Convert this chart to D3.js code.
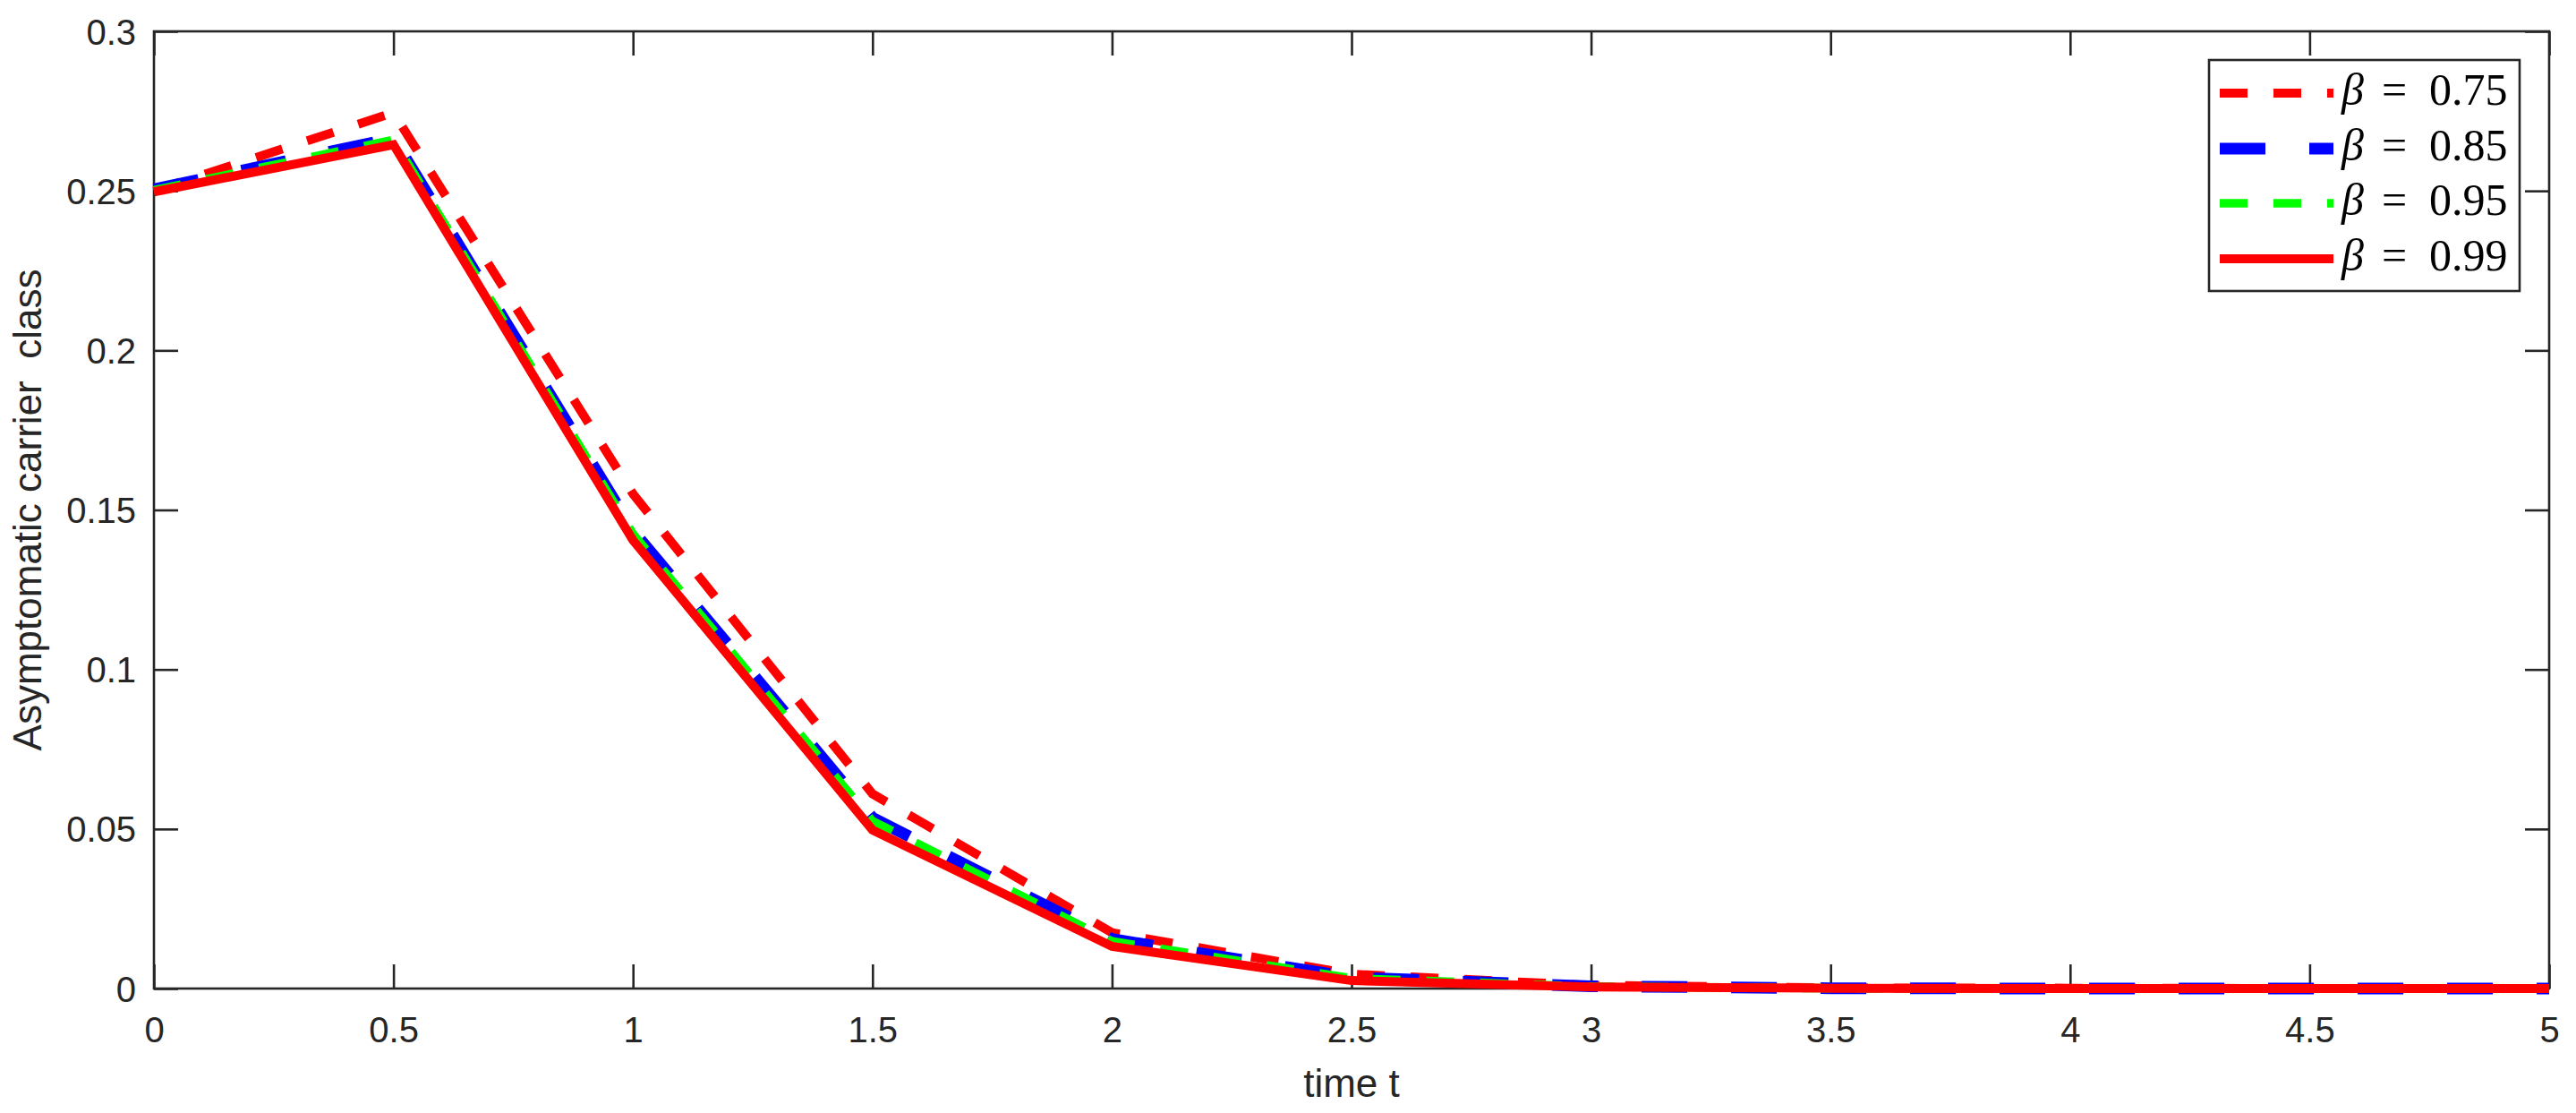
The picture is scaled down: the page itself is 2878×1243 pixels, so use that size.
<!DOCTYPE html>
<html>
<head>
<meta charset="utf-8">
<script src="https://cdn.jsdelivr.net/npm/d3@7"></script>
<style>
  body { margin: 0; background: #fff; }
  .tick text { font-family: "Liberation Sans", Arial, sans-serif; font-size: 40px; fill: #262626; }
  .tick line { stroke: #262626; stroke-width: 2.6; }
</style>
</head>
<body>
<script>
// time points and the four beta series
const times = [0, 0.5, 1, 1.5, 2, 2.5, 3, 3.5, 4, 4.5, 5];
const beta075 = [0.250, 0.2745, 0.155, 0.061, 0.0175, 0.0045, 0.0010, 0.0002, 0.0001, 0, 0];
const beta085 = [0.2505, 0.2665, 0.1435, 0.0535, 0.0155, 0.0035, 0.0007, 0.0001, 0, 0, 0];
const beta095 = [0.2502, 0.266, 0.1425, 0.0525, 0.0148, 0.0032, 0.0006, 0.0001, 0, 0, 0];
const beta099 = [0.2497, 0.2645, 0.1405, 0.0497, 0.0132, 0.0025, 0.0005, 0.0001, 0, 0, 0];

// tick labels
const xTicks = [0, 0.5, 1, 1.5, 2, 2.5, 3, 3.5, 4, 4.5, 5];
const yTicks = [0, 0.05, 0.1, 0.15, 0.2, 0.25, 0.3];

// legend labels
const legendNames = ['0.75', '0.85', '0.95', '0.99'];

const width = 2878, height = 1243;
const plot = { left: 172, right: 2848, top: 35, bottom: 1104 };
const tickLen = 27;

/**
 * Set up the svg and the scales
 */
function initChart() {
  const svg = d3.select('body').append('svg')
    .attr('width', width)
    .attr('height', height);

  const x = d3.scaleLinear().domain([0, 5]).range([plot.left, plot.right]);
  const y = d3.scaleLinear().domain([0, 0.3]).range([plot.bottom, plot.top]);
  return { svg, x, y };
}

/**
 * Draw the box, ticks and tick labels
 */
function drawAxes(svg, x, y) {
  const fmt = d => String(d);

  svg.append('g')
    .attr('transform', `translate(0,${plot.bottom})`)
    .call(d3.axisBottom(x).tickValues(xTicks).tickFormat(fmt)
      .tickSizeInner(-tickLen).tickSizeOuter(0).tickPadding(31.5))
    .call(g => g.select('.domain').remove());

  svg.append('g')
    .attr('transform', `translate(0,${plot.top})`)
    .call(d3.axisTop(x).tickValues(xTicks).tickFormat('')
      .tickSizeInner(-tickLen).tickSizeOuter(0))
    .call(g => g.select('.domain').remove());

  svg.append('g')
    .attr('transform', `translate(${plot.left},0)`)
    .call(d3.axisLeft(y).tickValues(yTicks).tickFormat(fmt)
      .tickSizeInner(-tickLen).tickSizeOuter(0).tickPadding(20))
    .call(g => g.select('.domain').remove())
    .selectAll('text').attr('dy', '0.35em');

  svg.append('g')
    .attr('transform', `translate(${plot.right},0)`)
    .call(d3.axisRight(y).tickValues(yTicks).tickFormat('')
      .tickSizeInner(-tickLen).tickSizeOuter(0))
    .call(g => g.select('.domain').remove());

  // axes box
  svg.append('rect')
    .attr('x', plot.left).attr('y', plot.top)
    .attr('width', plot.right - plot.left)
    .attr('height', plot.bottom - plot.top)
    .attr('fill', 'none')
    .attr('stroke', '#262626')
    .attr('stroke-width', 2.6);

  // axis titles
  svg.append('text')
    .attr('x', (plot.left + plot.right) / 2)
    .attr('y', 1225)
    .attr('text-anchor', 'middle')
    .style('font-family', '"Liberation Sans", Arial, sans-serif')
    .style('font-size', '44px')
    .style('fill', '#262626')
    .text('time t');

  svg.append('text')
    .attr('transform', `translate(46,${(plot.top + plot.bottom) / 2}) rotate(-90)`)
    .attr('text-anchor', 'middle')
    .style('font-family', '"Liberation Sans", Arial, sans-serif')
    .style('font-size', '44px')
    .style('fill', '#262626')
    .style('white-space', 'pre')
    .text('Asymptomatic carrier  class');
}

// line styles per series, in drawing order
const series = [
  { values: beta075, name: legendNames[0], color: '#ff0000', width: 10, dash: '31,29' },
  { values: beta085, name: legendNames[1], color: '#0000ff', width: 13, dash: '51,49' },
  { values: beta095, name: legendNames[2], color: '#00ff00', width: 9.5, dash: '31,29' },
  { values: beta099, name: legendNames[3], color: '#ff0000', width: 10, dash: null }
];

/**
 * Draw the four curves
 */
function drawLines(svg, x, y) {
  const line = d3.line()
    .x((d, i) => x(times[i]))
    .y(d => y(d));

  series.forEach(s => {
    svg.append('path')
      .datum(s.values)
      .attr('d', line)
      .attr('fill', 'none')
      .attr('stroke', s.color)
      .attr('stroke-width', s.width)
      .attr('stroke-linejoin', 'miter')
      .attr('stroke-dasharray', s.dash);
  });
}

/**
 * Draw the legend in the top right corner
 */
function drawLegend(svg) {
  const box = { x: 2468, y: 67, w: 347, h: 258 };
  const rowY = [104, 166, 227, 289];

  svg.append('rect')
    .attr('x', box.x).attr('y', box.y)
    .attr('width', box.w).attr('height', box.h)
    .attr('fill', '#fff')
    .attr('stroke', '#262626')
    .attr('stroke-width', 2.6);

  series.forEach((s, i) => {
    svg.append('line')
      .attr('x1', 2480).attr('x2', 2607)
      .attr('y1', rowY[i]).attr('y2', rowY[i])
      .attr('stroke', s.color)
      .attr('stroke-width', s.width)
      .attr('stroke-dasharray', s.dash);

    const t = svg.append('text')
      .attr('y', rowY[i] + 13)
      .style('font-family', '"Liberation Serif", "Times New Roman", serif')
      .style('font-size', '50px')
      .style('fill', '#000');
    t.append('tspan').attr('x', 2616).style('font-style', 'italic').text('β');
    t.append('tspan').attr('x', 2661).text('=');
    t.append('tspan').attr('x', 2714).text(s.name);
  });
}

const { svg, x, y } = initChart();
drawAxes(svg, x, y);
drawLines(svg, x, y);
drawLegend(svg);
</script>
</body>
</html>
